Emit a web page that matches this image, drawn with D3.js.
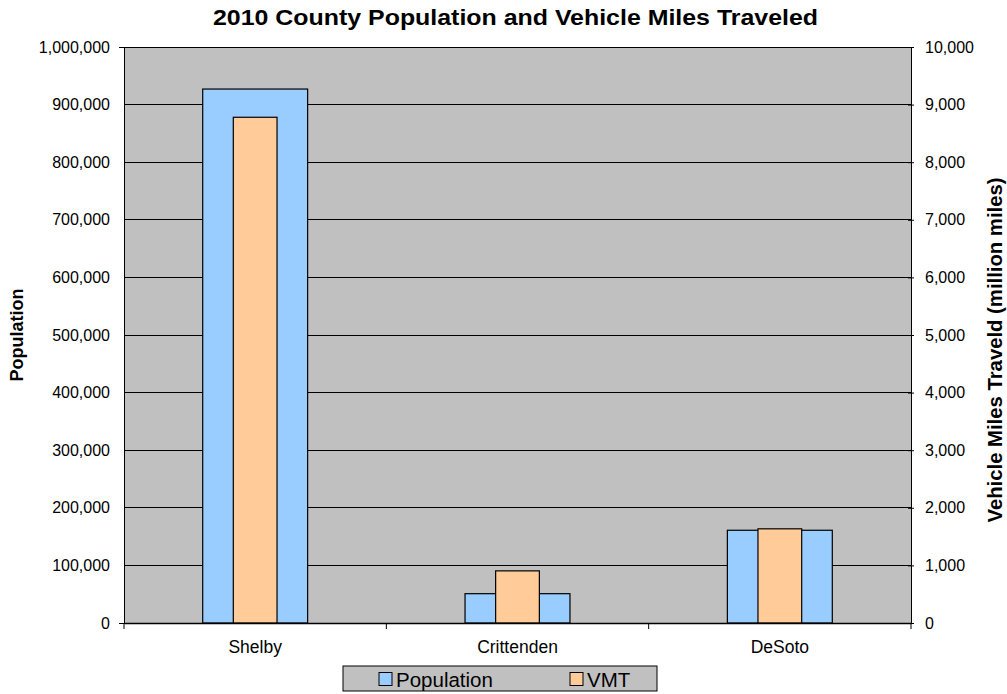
<!DOCTYPE html>
<html><head><meta charset="utf-8">
<script src="https://cdn.jsdelivr.net/npm/d3@7"></script>
<style>body{margin:0;background:#fff}text{font-family:"Liberation Sans",Arial,sans-serif}</style>
</head><body><svg id="c" width="1007" height="694"></svg>
<script>
const categories = ["Shelby", "Crittenden", "DeSoto"];
const population = [927000, 50900, 161000];
const vmt = [8780, 905, 1635];
const leftTicks = [0,100000,200000,300000,400000,500000,600000,700000,800000,900000,1000000];
const rightTicks = [0,1000,2000,3000,4000,5000,6000,7000,8000,9000,10000];
const seriesNames = ["Population", "VMT"];
const colors = ["#99ccff", "#ffcc99"];

const svg = d3.select("#c");
const L = 124, R = 911, T = 47, B = 623;
const fmt = d3.format(",");
const FF = '"Liberation Sans",Arial,sans-serif';

const x = d3.scaleBand().domain(categories).range([L, R]);
const yL = d3.scaleLinear().domain([0, 1000000]).range([B, T]);
const yR = d3.scaleLinear().domain([0, 10000]).range([B, T]);

svg.append("rect").attr("x", L).attr("y", T).attr("width", R - L).attr("height", B - T)
  .attr("fill", "#c0c0c0");

// gridlines
svg.append("g").selectAll("line").data(leftTicks.slice(1)).join("line")
  .attr("x1", L).attr("x2", R).attr("y1", d => yL(d)).attr("y2", d => yL(d))
  .attr("stroke", "#000").attr("stroke-width", 1).attr("shape-rendering", "crispEdges");

const bw = x.bandwidth();
svg.append("g").selectAll("rect").data(categories).join("rect")
  .attr("x", d => x(d) + bw * 0.3).attr("width", bw * 0.4)
  .attr("y", (d, i) => yL(population[i])).attr("height", (d, i) => B - yL(population[i]))
  .attr("fill", colors[0]).attr("stroke", "#000").attr("stroke-width", 1.2);
svg.append("g").selectAll("rect").data(categories).join("rect")
  .attr("x", d => x(d) + bw * (5/12)).attr("width", bw / 6)
  .attr("y", (d, i) => yR(vmt[i])).attr("height", (d, i) => B - yR(vmt[i]))
  .attr("fill", colors[1]).attr("stroke", "#000").attr("stroke-width", 1.2);

// axes
const gL = svg.append("g").attr("transform", `translate(${L},0)`)
  .call(d3.axisLeft(yL).tickValues(leftTicks).tickFormat(fmt).tickSize(5).tickPadding(9));
const gR = svg.append("g").attr("transform", `translate(${R},0)`)
  .call(d3.axisRight(yR).tickValues(rightTicks).tickFormat(fmt).tickSize(3).tickPadding(11));
gR.selectAll(".tick line").attr("x1", -3);
gL.selectAll(".tick line").attr("x2", 1);
const gB = svg.append("g").attr("transform", `translate(0,${B})`)
  .call(d3.axisBottom(x).tickSize(0).tickPadding(18));
gB.append("g").selectAll("line").data(d3.range(categories.length + 1)).join("line")
  .attr("x1", i => L + i * bw).attr("x2", i => L + i * bw).attr("y1", 0).attr("y2", 6)
  .attr("stroke", "#000");
[gL, gR, gB].forEach(g => {
  g.selectAll("text").attr("fill", "#000").attr("font-family", FF).attr("font-size", 16);
  g.select(".domain").attr("stroke", "#000");
});
gB.selectAll(".tick text").attr("font-size", 17.5);
gB.select(".domain").attr("stroke-width", 1.5);

// title and axis labels
svg.append("text").attr("x", 515.5).attr("y", 25).attr("text-anchor", "middle")
  .attr("font-size", 22).attr("font-weight", "bold")
  .attr("textLength", 605).attr("lengthAdjust", "spacingAndGlyphs")
  .text("2010 County Population and Vehicle Miles Traveled");
svg.append("text").attr("transform", `translate(23,335) rotate(-90)`).attr("text-anchor", "middle")
  .attr("font-size", 18).attr("font-weight", "bold").text("Population");
svg.append("text").attr("transform", `translate(1002,350) rotate(-90)`).attr("text-anchor", "middle")
  .attr("font-size", 19.5).attr("font-weight", "bold")
  .attr("textLength", 345).attr("lengthAdjust", "spacingAndGlyphs")
  .text("Vehicle Miles Traveld (million miles)");

// legend
const lg = svg.append("g");
lg.append("rect").attr("x", 343).attr("y", 666).attr("width", 314).attr("height", 25)
  .attr("fill", "#c0c0c0").attr("stroke", "#000").attr("stroke-width", 1);
const lx = [379, 570];
seriesNames.forEach((n, i) => {
  lg.append("rect").attr("x", lx[i]).attr("y", 672.5).attr("width", 13).attr("height", 13)
    .attr("fill", colors[i]).attr("stroke", "#000").attr("stroke-width", 1);
  lg.append("text").attr("x", lx[i] + 17).attr("y", 686.5).attr("font-size", 20.5).text(n);
});
</script></body></html>
